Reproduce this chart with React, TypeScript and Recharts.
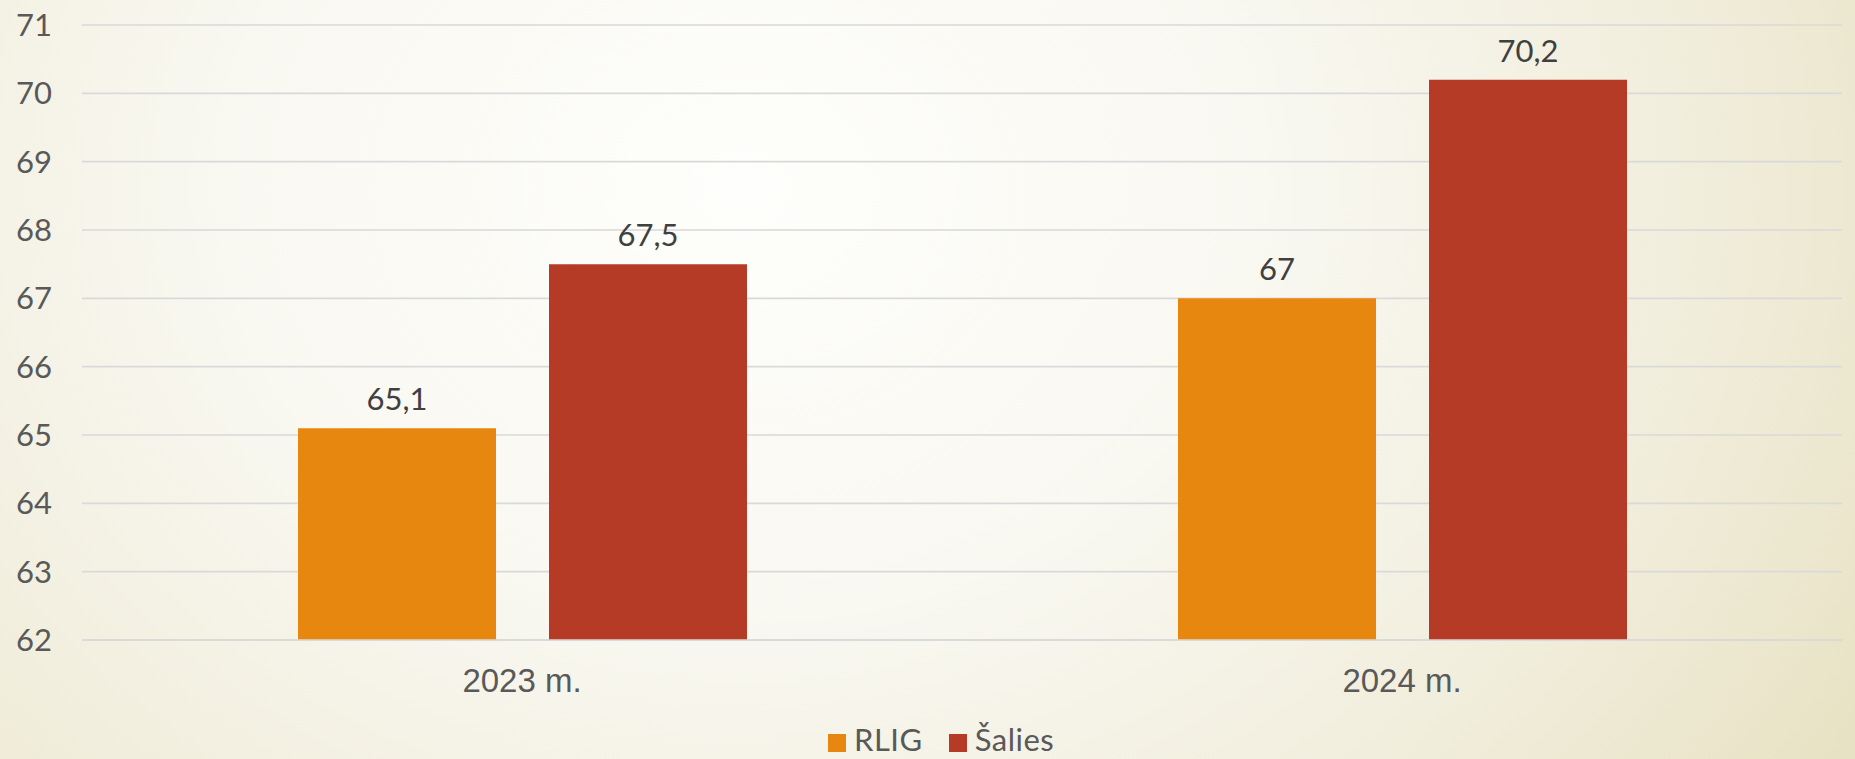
import React from 'react';
import { BarChart, Bar, XAxis, YAxis, CartesianGrid, Legend, LabelList } from 'recharts';

const categories = ['2023 m.', '2024 m.'];
const rligValues = [65.1, 67];
const saliesValues = [67.5, 70.2];
const yTicks = [62, 63, 64, 65, 66, 67, 68, 69, 70, 71];
const seriesNames = ['RLIG', 'Šalies'];

const ORANGE = '#E8870F';
const RED = '#B53B27';
const GOTHIC = 'Lato, "Noto Sans", sans-serif';

const data = categories.map((c, i) => ({ name: c, rlig: rligValues[i], salies: saliesValues[i] }));

const fmt = (v: any) => String(v).replace('.', ',');

const renderLegend = () => (
  <div style={{ display: 'flex', alignItems: 'flex-start', fontFamily: GOTHIC, fontSize: 31, lineHeight: '36px', color: '#595959', whiteSpace: 'nowrap' }}>
    <span style={{ display: 'inline-block', width: 18, height: 18, background: ORANGE, marginTop: 13, marginRight: 8 }} />
    <span style={{ letterSpacing: 0.5 }}>{seriesNames[0]}</span>
    <span style={{ display: 'inline-block', width: 18, height: 18, background: RED, marginTop: 13, marginLeft: 26, marginRight: 8 }} />
    <span style={{ letterSpacing: 0.5 }}>{seriesNames[1]}</span>
  </div>
);

export default function App() {
  return (
    <div
      style={{
        position: 'absolute',
        left: 0,
        top: 0,
        width: 1855,
        height: 759,
        overflow: 'hidden',
        background:
          'radial-gradient(ellipse 70% 140% at 40% 25%, #fefefc 0%, #f9f8f1 40%, #f1eedd 72%, #e8e2c4 100%)',
      }}
    >
      <BarChart
        width={1855}
        height={759}
        data={data}
        margin={{ top: 25, right: 13, bottom: 59, left: 0 }}
        barCategoryGap={216}
        barGap={53}
      >
        <CartesianGrid vertical={false} stroke="#d9d9d9" strokeWidth={1.6} />
        <XAxis
          dataKey="name"
          height={60}
          tickLine={false}
          axisLine={{ stroke: '#d9d9d9', strokeWidth: 1.6 }}
          tickMargin={23}
          tick={{ fill: '#595959', fontSize: 33, fontFamily: '"Liberation Sans", Arial, sans-serif' }}
        />
        <YAxis
          width={82}
          domain={[62, 71]}
          ticks={yTicks}
          interval={0}
          allowDataOverflow
          tickLine={false}
          axisLine={false}
          tickMargin={24}
          tick={{ fill: '#595959', fontSize: 31, fontFamily: GOTHIC }}
        />
        <Legend
          verticalAlign="middle"
          layout="horizontal"
          content={renderLegend}
          wrapperStyle={{ left: 828, top: 721, width: 'auto' }}
        />
        <Bar dataKey="rlig" name={seriesNames[0]} fill={ORANGE} isAnimationActive={false}>
          <LabelList dataKey="rlig" position="top" offset={18} formatter={fmt} fill="#404040" fontSize={31} fontFamily={GOTHIC} />
        </Bar>
        <Bar dataKey="salies" name={seriesNames[1]} fill={RED} isAnimationActive={false}>
          <LabelList dataKey="salies" position="top" offset={18} formatter={fmt} fill="#404040" fontSize={31} fontFamily={GOTHIC} />
        </Bar>
      </BarChart>
    </div>
  );
}
